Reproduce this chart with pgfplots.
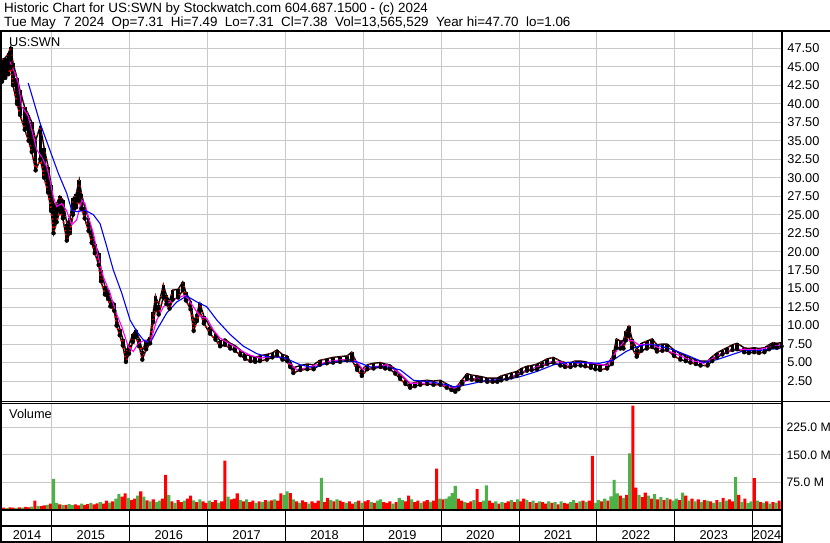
\documentclass[border=0pt]{standalone}
\usepackage{fontspec}
\setmainfont{Liberation Sans}
\usepackage{pgfplots}
\usepackage{pgfplotstable}
\pgfplotsset{compat=1.18}

\definecolor{gridgray}{RGB}{200,200,200}
\definecolor{vred}{RGB}{255,0,0}
\definecolor{vgreen}{RGB}{76,178,72}
\definecolor{maone}{RGB}{255,0,255}
\definecolor{matwo}{RGB}{0,0,255}

\pgfplotstableread{
x lo hi
2014.358 43.0 46.0
2014.40 43.5 46.2
2014.44 44.0 46.8
2014.47 45.0 47.7
2014.50 42.5 45.5
2014.55 40.0 43.5
2014.59 38.5 41.8
2014.65 36.5 39.5
2014.70 35.0 38.5
2014.74 33.5 37.5
2014.79 31.0 35.0
2014.85 32.5 37.0
2014.90 30.0 34.0
2014.95 28.0 31.5
2014.99 25.5 29.0
2015.02 22.5 26.5
2015.06 24.0 26.5
2015.10 25.5 27.5
2015.14 24.5 27.0
2015.19 21.5 23.8
2015.23 22.5 24.5
2015.27 25.0 27.2
2015.31 26.0 27.8
2015.35 27.0 29.7
2015.38 25.8 27.8
2015.42 24.5 26.0
2015.47 22.8 24.5
2015.51 21.2 22.8
2015.55 19.8 21.0
2015.60 18.2 19.8
2015.63 16.0 17.5
2015.68 14.2 15.3
2015.72 13.6 14.8
2015.75 12.6 13.5
2015.80 12.0 13.0
2015.83 10.0 11.0
2015.87 8.7 9.6
2015.91 7.3 8.2
2015.95 5.1 6.5
2015.99 6.2 7.4
2016.04 7.8 8.9
2016.08 8.5 9.4
2016.12 7.2 8.2
2016.16 5.4 6.6
2016.21 6.8 7.9
2016.26 7.6 8.4
2016.30 10.5 11.8
2016.33 12.2 14.0
2016.37 11.5 12.8
2016.43 13.8 15.5
2016.47 12.9 14.1
2016.51 12.3 13.3
2016.55 13.5 14.8
2016.62 13.8 14.9
2016.68 14.8 15.9
2016.72 13.4 14.5
2016.78 12.2 13.3
2016.82 9.3 10.5
2016.86 10.6 11.6
2016.90 12.0 13.0
2016.95 10.3 11.3
2017.03 8.9 9.8
2017.10 8.1 8.9
2017.16 7.2 7.9
2017.22 7.4 8.2
2017.29 6.9 7.6
2017.35 6.6 7.3
2017.42 6.0 6.7
2017.48 5.5 6.1
2017.55 5.2 5.9
2017.61 5.1 5.7
2017.67 5.2 5.9
2017.76 5.4 6.1
2017.83 5.7 6.3
2017.89 6.0 6.7
2017.96 5.4 6.1
2018.02 5.2 5.9
2018.06 4.4 5.1
2018.10 3.6 4.3
2018.19 4.0 4.6
2018.28 4.1 4.8
2018.36 4.1 4.7
2018.44 4.7 5.3
2018.53 4.9 5.5
2018.61 5.0 5.7
2018.70 5.1 5.8
2018.79 5.3 5.9
2018.85 5.4 6.4
2018.92 4.0 4.8
2018.98 3.2 4.0
2019.05 4.1 4.7
2019.13 4.2 4.9
2019.22 4.4 5.0
2019.28 4.2 4.8
2019.34 4.1 4.7
2019.41 3.5 4.1
2019.47 2.8 3.4
2019.54 2.1 2.7
2019.60 1.6 2.1
2019.66 1.8 2.3
2019.73 2.0 2.5
2019.82 2.1 2.6
2019.90 2.0 2.5
2019.99 2.0 2.6
2020.07 1.6 2.1
2020.13 1.3 1.8
2020.18 1.06 1.6
2020.22 1.4 2.0
2020.27 2.1 2.7
2020.33 2.8 3.5
2020.39 2.7 3.3
2020.46 2.6 3.2
2020.51 2.5 3.1
2020.59 2.4 2.9
2020.66 2.4 2.9
2020.72 2.4 2.9
2020.77 2.6 3.2
2020.84 2.8 3.4
2020.90 3.0 3.6
2020.97 3.2 3.8
2021.03 3.6 4.2
2021.10 3.9 4.5
2021.16 4.0 4.6
2021.23 4.1 4.8
2021.29 4.5 5.1
2021.36 4.8 5.5
2021.44 5.0 5.7
2021.53 4.6 5.2
2021.59 4.4 5.0
2021.66 4.4 5.0
2021.72 4.6 5.2
2021.79 4.6 5.2
2021.85 4.5 5.1
2021.92 4.3 4.9
2021.98 4.1 4.7
2022.04 4.0 4.6
2022.13 4.2 4.8
2022.19 4.8 5.6
2022.22 5.7 6.7
2022.25 7.0 8.2
2022.30 6.9 7.9
2022.34 6.9 8.0
2022.37 8.0 9.2
2022.41 8.6 9.9
2022.45 7.0 8.2
2022.51 5.8 6.8
2022.57 6.6 7.6
2022.64 6.9 7.9
2022.71 7.1 8.2
2022.77 6.5 7.4
2022.84 6.6 7.5
2022.90 6.7 7.5
2022.99 5.9 6.7
2023.07 5.4 6.2
2023.14 5.2 5.9
2023.20 5.0 5.6
2023.27 4.8 5.4
2023.33 4.6 5.2
2023.42 4.6 5.2
2023.48 5.2 5.8
2023.54 5.7 6.3
2023.61 6.1 6.7
2023.67 6.4 7.0
2023.74 6.7 7.4
2023.80 6.8 7.6
2023.89 6.4 7.0
2023.95 6.3 6.9
2024.02 6.4 7.0
2024.08 6.3 6.9
2024.15 6.4 7.0
2024.21 6.8 7.4
2024.26 7.1 7.7
2024.31 7.0 7.6
2024.37 7.2 7.7
}\price

\pgfplotstableread{
x y
2014.460 45.7
2014.524 44.1
2014.567 42.8
2014.611 39.6
2014.653 39.0
2014.695 38.3
2014.739 36.5
2014.803 33.8
2014.868 32.8
2014.932 31.5
2014.974 29.7
2015.017 27.4
2015.060 26.1
2015.125 26.5
2015.189 25.5
2015.253 23.6
2015.317 24.3
2015.382 27.0
2015.424 26.5
2015.467 24.7
2015.531 22.5
2015.595 19.3
2015.659 16.6
2015.746 14.4
2015.810 12.1
2015.896 9.85
2015.981 7.1
2016.045 6.5
2016.109 7.6
2016.195 8.05
2016.260 7.6
2016.346 10.75
2016.431 12.55
2016.517 13.2
2016.603 13.7
2016.710 14.1
2016.816 12.55
2016.902 11.2
2016.988 11.0
2017.073 9.4
2017.159 8.3
2017.288 7.5
2017.416 6.7
2017.545 6.0
2017.674 5.6
2017.845 5.8
2017.973 5.6
2018.145 4.0
2018.274 4.3
2018.402 4.7
2018.573 5.2
2018.744 5.4
2018.895 5.3
2019.001 4.0
2019.130 4.4
2019.302 4.7
2019.473 3.5
2019.602 2.2
2019.773 2.2
2019.945 2.2
2020.158 1.5
2020.330 2.6
2020.459 2.9
2020.544 2.5
2020.716 2.6
2020.887 3.0
2021.058 3.8
2021.230 4.4
2021.401 5.1
2021.530 5.1
2021.658 4.5
2021.787 5.0
2021.958 4.9
2022.130 4.6
2022.258 6.7
2022.365 8.05
2022.451 8.0
2022.536 7.4
2022.686 7.5
2022.815 6.9
2022.986 6.3
2023.200 5.3
2023.371 4.9
2023.543 5.9
2023.715 6.7
2023.886 6.8
2024.057 6.7
2024.229 7.1
2024.357 7.4
}\maA

\pgfplotstableread{
x y
2014.695 42.8
2014.760 40.5
2014.846 37.4
2014.974 33.7
2015.081 30.6
2015.189 27.9
2015.253 25.6
2015.317 25.4
2015.424 25.6
2015.531 25.0
2015.617 23.8
2015.703 20.7
2015.788 17.5
2015.896 14.4
2016.003 10.75
2016.089 9.2
2016.174 8.05
2016.260 7.6
2016.346 9.4
2016.474 11.7
2016.603 13.2
2016.731 14.0
2016.860 13.2
2016.988 12.55
2017.117 10.75
2017.288 8.8
2017.459 7.2
2017.631 6.2
2017.760 5.8
2017.973 5.7
2018.188 4.7
2018.359 4.3
2018.531 4.9
2018.702 5.2
2018.916 5.1
2019.087 4.4
2019.302 4.4
2019.473 4.0
2019.644 2.6
2019.859 2.4
2020.073 2.0
2020.158 1.7
2020.330 2.0
2020.587 2.6
2020.844 2.7
2021.015 3.1
2021.230 3.8
2021.444 4.7
2021.615 5.0
2021.787 5.0
2022.031 4.9
2022.202 5.3
2022.374 6.5
2022.503 7.1
2022.610 7.4
2022.760 7.4
2022.986 6.7
2023.200 5.8
2023.371 5.0
2023.543 5.4
2023.715 6.0
2023.886 6.6
2024.057 6.6
2024.229 6.8
2024.357 6.9
}\maB

\newcommand{\XMIN}{2014.358}
\newcommand{\XMAX}{2024.370}

\begin{document}
\fontsize{12.8}{15}\selectfont
\begin{tikzpicture}[x=1bp,y=1bp]
\useasboundingbox (0,0) rectangle (830,543);
\fill[white] (0,0) rectangle (830,543);

% header
\node[anchor=base west, inner sep=0, font=\fontsize{13.45}{15}\selectfont] at (4,530) {Historic Chart for US:SWN by Stockwatch.com 604.687.1500 - (c) 2024};
\node[anchor=base west, inner sep=0, font=\fontsize{13.45}{15}\selectfont] at (4,516) {Tue May~~7 2024~~Op=7.31~~Hi=7.49~~Lo=7.31~~Cl=7.38~~Vol=13,565,529~~Year hi=47.70~~lo=1.06};

% price panel
\begin{axis}[
  at={(2bp,141.7bp)}, anchor=south west, scale only axis,
  width=779.5bp, height=370.3bp,
  xmin=\XMIN, xmax=\XMAX, ymin=-0.24, ymax=49.84,
  axis line style={draw=none},
  xtick={2015,2016,2017,2018,2019,2020,2021,2022,2023,2024}, xticklabels={},
  ytick={2.5,5,7.5,10,12.5,15,17.5,20,22.5,25,27.5,30,32.5,35,37.5,40,42.5,45,47.5},
  yticklabels={2.50,5.00,7.50,10.00,12.50,15.00,17.50,20.00,22.50,25.00,27.50,30.00,32.50,35.00,37.50,40.00,42.50,45.00,47.50},
  yticklabel pos=right,
  yticklabel style={anchor=west, xshift=1.5bp},
  grid=major, major grid style={gridgray, line width=1bp},
  major tick length=0pt,
]
\addplot[only marks, mark=none, black,
  error bars/.cd, y dir=plus, y explicit, error mark=none,
  error bar style={black, line width=3.6bp}]
  table[x=x, y=lo, y error expr=\thisrow{hi}-\thisrow{lo}]{\price};
\addplot[black, line width=1.4bp] table[x=x,y=hi]{\price};
\addplot[black, line width=1.4bp] table[x=x,y=lo]{\price};
\addplot[vred, line width=1.7bp, dash pattern=on 1.5bp off 2.6bp] table[x=x,y=lo]{\price};
\addplot[vred, line width=1.2bp, dash pattern=on 1bp off 5bp] table[x=x,y=hi]{\price};
\addplot[maone, line width=1.1bp] table[x=x,y=y]{\maA};
\addplot[matwo, line width=1.1bp] table[x=x,y=y]{\maB};
\end{axis}

% volume panel
\begin{axis}[
  at={(2bp,33.5bp)}, anchor=south west, scale only axis,
  width=779.5bp, height=105.7bp,
  xmin=\XMIN, xmax=\XMAX, ymin=0, ymax=290,
  axis line style={draw=none},
  xtick={2015,2016,2017,2018,2019,2020,2021,2022,2023,2024}, xticklabels={},
  ytick={75,150,225}, yticklabels={75.0 M,150.0 M,225.0 M},
  yticklabel pos=right,
  yticklabel style={anchor=west, xshift=0.6bp, font=\fontsize{12.3}{15}\selectfont},
  grid=major, major grid style={gridgray, line width=1bp},
  major tick length=0pt,
  ybar, bar width=0.04,
]
\addplot[fill=vred, draw=none, bar shift=0pt] coordinates {
(2014.38,5)(2014.46,6)(2014.50,5)(2014.58,6)(2014.66,7)(2014.70,6)(2014.78,24)(2014.86,9)(2014.90,11)(2014.98,16)
(2015.10,14)(2015.18,13)(2015.30,14)(2015.34,11)(2015.42,13)(2015.46,15)(2015.54,14)(2015.58,17)(2015.66,16)(2015.70,24)(2015.78,22)(2015.90,35)(2015.94,44)
(2016.02,26)(2016.06,30)(2016.14,50)(2016.22,25)(2016.30,28)(2016.42,30)(2016.46,95)(2016.54,22)(2016.62,26)(2016.66,20)(2016.74,30)(2016.78,38)(2016.86,20)(2016.94,22)(2016.98,18)
(2017.06,20)(2017.10,26)(2017.18,22)(2017.22,134)(2017.30,28)(2017.34,30)(2017.38,44)(2017.46,22)(2017.54,20)(2017.58,24)(2017.66,22)(2017.74,26)(2017.82,25)(2017.90,24)(2017.94,44)
(2018.06,45)(2018.14,22)(2018.22,25)(2018.26,20)(2018.34,22)(2018.38,18)(2018.42,24)(2018.50,20)(2018.54,32)(2018.62,22)(2018.70,24)(2018.74,20)(2018.82,22)(2018.86,16)(2018.94,24)
(2019.02,22)(2019.06,26)(2019.14,18)(2019.26,20)(2019.30,18)(2019.34,22)(2019.42,20)(2019.54,22)(2019.58,38)(2019.66,20)(2019.70,24)(2019.78,22)(2019.82,26)(2019.90,24)(2019.94,112)
(2020.02,28)(2020.22,30)(2020.26,24)(2020.34,18)(2020.38,22)(2020.46,56)(2020.50,20)(2020.62,24)(2020.66,18)(2020.74,16)(2020.82,18)(2020.86,22)(2020.94,20)
(2021.02,22)(2021.06,30)(2021.14,20)(2021.22,18)(2021.30,20)(2021.34,16)(2021.42,18)(2021.50,14)(2021.58,18)(2021.62,16)(2021.74,18)(2021.82,24)(2021.90,24)(2021.94,147)
(2022.06,22)(2022.14,24)(2022.30,38)(2022.38,40)(2022.46,285)(2022.50,60)(2022.58,34)(2022.62,46)(2022.70,30)(2022.78,28)(2022.86,26)(2022.94,28)
(2023.06,26)(2023.14,38)(2023.22,30)(2023.30,28)(2023.38,26)(2023.46,22)(2023.54,26)(2023.62,32)(2023.70,28)(2023.74,22)(2023.82,40)(2023.90,30)
(2024.02,86)(2024.10,20)(2024.18,22)(2024.26,20)(2024.34,24)
};
\addplot[fill=vgreen, draw=none, bar shift=0pt] coordinates {
(2014.42,4)(2014.54,4)(2014.62,5)(2014.74,8)(2014.82,10)(2014.94,13)
(2015.02,84)(2015.06,18)(2015.14,12)(2015.22,15)(2015.26,12)(2015.38,16)(2015.50,18)(2015.62,20)(2015.74,19)(2015.82,30)(2015.86,42)(2015.98,32)
(2016.10,38)(2016.18,35)(2016.26,22)(2016.34,20)(2016.38,24)(2016.50,40)(2016.58,18)(2016.70,24)(2016.82,25)(2016.90,28)
(2017.02,24)(2017.14,18)(2017.26,35)(2017.42,26)(2017.50,28)(2017.62,18)(2017.70,20)(2017.78,22)(2017.86,28)(2017.98,40)
(2018.02,50)(2018.10,28)(2018.18,18)(2018.30,16)(2018.46,87)(2018.58,26)(2018.66,28)(2018.78,18)(2018.90,20)(2018.98,18)
(2019.10,20)(2019.18,24)(2019.22,28)(2019.38,16)(2019.46,32)(2019.50,26)(2019.62,28)(2019.74,18)(2019.86,20)(2019.98,30)
(2020.06,30)(2020.10,36)(2020.14,45)(2020.18,65)(2020.30,20)(2020.42,26)(2020.54,24)(2020.58,66)(2020.70,22)(2020.78,20)(2020.90,26)(2020.98,28)
(2021.10,26)(2021.18,24)(2021.26,22)(2021.38,22)(2021.46,20)(2021.54,22)(2021.66,20)(2021.70,26)(2021.78,22)(2021.86,20)(2021.98,18)
(2022.02,26)(2022.10,30)(2022.18,36)(2022.22,81)(2022.26,44)(2022.34,32)(2022.42,154)(2022.54,40)(2022.66,38)(2022.74,42)(2022.82,34)(2022.90,32)(2022.98,24)
(2023.02,30)(2023.10,46)(2023.18,24)(2023.26,22)(2023.34,20)(2023.42,24)(2023.50,18)(2023.58,20)(2023.66,24)(2023.78,89)(2023.86,20)(2023.94,18)(2023.98,22)
(2024.06,24)(2024.14,18)(2024.22,16)(2024.30,18)
};
\end{axis}

% date strip
\begin{axis}[
  at={(2bp,1.5bp)}, anchor=south west, scale only axis,
  width=779.5bp, height=30.5bp,
  xmin=\XMIN, xmax=\XMAX, ymin=0, ymax=1,
  axis line style={draw=none},
  xtick={2015,2016,2017,2018,2019,2020,2021,2022,2023,2024}, xticklabels={},
  ytick=\empty,
  xmajorgrids, major grid style={black, line width=1bp},
  major tick length=0pt,
]
\addplot[draw=none] coordinates {(2015,0.5)(2020,0.5)};
\node at (axis cs:2014.679,0.22) {2014};
\node at (axis cs:2015.5,0.22) {2015};
\node at (axis cs:2016.5,0.22) {2016};
\node at (axis cs:2017.5,0.22) {2017};
\node at (axis cs:2018.5,0.22) {2018};
\node at (axis cs:2019.5,0.22) {2019};
\node at (axis cs:2020.5,0.22) {2020};
\node at (axis cs:2021.5,0.22) {2021};
\node at (axis cs:2022.5,0.22) {2022};
\node at (axis cs:2023.5,0.22) {2023};
\node at (axis cs:2024.185,0.22) {2024};
\end{axis}

% labels inside panels
\node[anchor=base west, inner sep=0] at (9,496.5) {US:SWN};
\node[anchor=base west, inner sep=0] at (9,124.8) {Volume};

% frame
\draw[line width=2bp] (0,512.3) -- (830,512.3);
\draw[line width=2bp] (1,0) -- (1,513.3);
\draw[line width=2bp] (781.5,0) -- (781.5,513.3);
\draw[line width=1bp] (0,141.7) -- (830,141.7);
\draw[line width=1bp] (0,139.5) -- (781.5,139.5);
\draw[line width=2.5bp] (0,32.8) -- (781.5,32.8);
\draw[line width=2.3bp] (0,16.8) -- (781.5,16.8);
\draw[line width=2bp] (0,1.3) -- (781.5,1.3);
\end{tikzpicture}
\end{document}
